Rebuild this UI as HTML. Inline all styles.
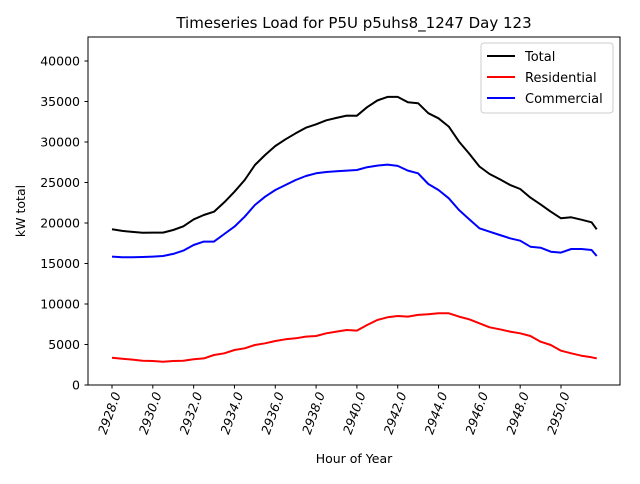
<!DOCTYPE html>
<html><head><meta charset="utf-8"><style>
body{margin:0;background:#fff;font-family:"DejaVu Sans","Liberation Sans",sans-serif;}
</style></head><body>
<svg id="chart" width="640" height="480" xmlns="http://www.w3.org/2000/svg" font-family="DejaVu Sans, Liberation Sans, sans-serif">
<rect width="640" height="480" fill="#fff"/>
<text x="354" y="28" text-anchor="middle" font-size="15">Timeseries Load for P5U p5uhs8_1247  Day 123</text>
<g id="grid"></g>
<g id="series"></g>
<rect x="88" y="37" width="532" height="348" fill="none" stroke="#000" stroke-width="1"/>
<g id="axes"></g>
<text x="354" y="463" text-anchor="middle" font-size="12.5">Hour of Year</text>
<text transform="translate(25,211) rotate(-90)" text-anchor="middle" font-size="12.5">kW total</text>
<g>
<rect x="481" y="43" width="132" height="70" rx="3" fill="#fff" fill-opacity="0.8" stroke="#ccc"/>
<g><line x1="487" y1="56" x2="515" y2="56" stroke="#000" stroke-width="2"/><text x="525" y="61" font-size="13">Total</text></g>
<g><line x1="487" y1="77" x2="515" y2="77" stroke="red" stroke-width="2"/><text x="525" y="82" font-size="13">Residential</text></g>
<g><line x1="487" y1="98" x2="515" y2="98" stroke="blue" stroke-width="2"/><text x="525" y="103" font-size="13">Commercial</text></g>
</g>
</svg>
<script>
const hours = [2928,2928.5,2929,2929.5,2930,2930.5,2931,2931.5,2932,2932.5,2933,2933.5,2934,2934.5,2935,2935.5,2936,2936.5,2937,2937.5,2938,2938.5,2939,2939.5,2940,2940.5,2941,2941.5,2942,2942.5,2943,2943.5,2944,2944.5,2945,2945.5,2946,2946.5,2947,2947.5,2948,2948.5,2949,2949.5,2950,2950.5,2951,2951.5,2951.75];
const total = [19220,19020,18900,18800,18810,18810,19140,19590,20450,20990,21400,22550,23870,25310,27160,28400,29510,30330,31070,31770,32190,32680,32980,33260,33250,34300,35120,35570,35570,34910,34790,33550,32930,31900,30050,28570,26970,26050,25400,24700,24200,23130,22300,21400,20580,20700,20410,20090,19220];
const residential = [3370,3250,3130,3000,2960,2880,2960,3000,3170,3290,3700,3910,4320,4530,4940,5150,5430,5640,5760,5970,6050,6380,6590,6790,6710,7410,8030,8360,8520,8440,8650,8730,8850,8850,8440,8110,7620,7120,6880,6590,6380,6050,5350,4940,4240,3910,3620,3420,3290];
const commercial = [15850,15770,15770,15800,15850,15930,16180,16590,17280,17700,17700,18640,19550,20780,22220,23250,24080,24690,25310,25800,26140,26300,26390,26470,26540,26890,27090,27210,27050,26470,26140,24820,24080,23050,21610,20460,19350,18930,18520,18110,17820,17080,16950,16460,16340,16790,16790,16670,15930];
const xTicks = [2928,2930,2932,2934,2936,2938,2940,2942,2944,2946,2948,2950];
const yTicks = [0,5000,10000,15000,20000,25000,30000,35000,40000];

const NS="http://www.w3.org/2000/svg";
const xs = h => 112 + (h-2928)*(561-112)/22;
const ys = v => 385 - v*324/40000;
const axes=document.getElementById('axes');
function mk(tag,attrs,parent){const e=document.createElementNS(NS,tag);for(const k in attrs)e.setAttribute(k,attrs[k]);parent.appendChild(e);return e;}
yTicks.forEach(v=>{
  const y=ys(v);
  const t=mk('line',{x1:84.5,x2:88,y1:y,y2:y,stroke:'#000'},axes);
  
  
  const l=mk('text',{x:80,y:y+4.5,'text-anchor':'end','font-size':'12.5'},axes);
  l.textContent=v;
  
  
});
xTicks.forEach(h=>{
  const x=xs(h);
  const t=mk('line',{x1:x,x2:x,y1:385,y2:388.5,stroke:'#000'},axes);
  
  
  const l=mk('text',{transform:`translate(${x+9},394) rotate(-70)`,'text-anchor':'end','font-size':'12.5','font-style':'italic'},axes);
  l.textContent=h.toFixed(1);
  
  
});
const sg=document.getElementById('series');
[[total,'#000','total-line'],[residential,'red','residential-line'],[commercial,'blue','commercial-line']].forEach(([d,c,n])=>{
  const p=mk('polyline',{points:d.map((v,i)=>xs(hours[i]).toFixed(1)+','+ys(v).toFixed(1)).join(' '),fill:'none',stroke:c,'stroke-width':2,'stroke-linejoin':'round'},sg);
  
  
});
</script>
</body></html>
